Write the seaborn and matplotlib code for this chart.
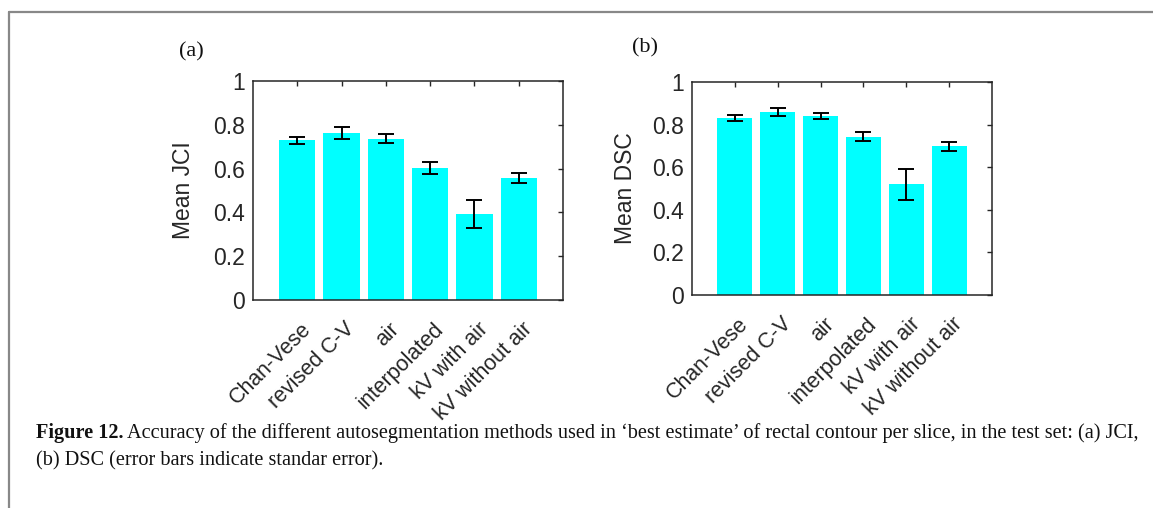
import matplotlib
matplotlib.use("Agg")
import matplotlib.pyplot as plt
import matplotlib.transforms as mtransforms
from matplotlib.lines import Line2D
import seaborn as sns
import pandas as pd

methods = ["Chan-Vese", "revised C-V", "air", "interpolated", "kV with air", "kV without air"]
jci_mean = [0.729, 0.763, 0.736, 0.603, 0.391, 0.559]
jci_se = [0.015, 0.029, 0.020, 0.027, 0.064, 0.023]
dsc_mean = [0.831, 0.859, 0.841, 0.744, 0.519, 0.698]
dsc_se = [0.013, 0.019, 0.014, 0.020, 0.074, 0.021]
yticks = [0, 0.2, 0.4, 0.6, 0.8, 1.0]
yticklabels = ["0", "0.2", "0.4", "0.6", "0.8", "1"]

sns.set_style("white")
plt.rcParams["font.family"] = ["Liberation Sans", "DejaVu Sans"]

W, H = 1153, 508
fig = plt.figure(figsize=(W / 100, H / 100), dpi=100)

ink = "#262626"

def panel(rect, means, ses, ylabel, label_x):
    ax = fig.add_axes(rect)
    df = pd.DataFrame({"method": methods, "value": means})
    sns.barplot(data=df, x="method", y="value", color="#00FFFF", saturation=1,
                width=0.82, errorbar=None, ax=ax, edgecolor="none")
    ax.errorbar(range(len(methods)), means, yerr=ses, fmt="none", ecolor="black",
                elinewidth=1.4, capsize=5.5, capthick=1.4)
    ax.set_xlim(-1, 6)
    ax.set_ylim(0, 1)
    ax.set_yticks(yticks)
    ax.set_yticklabels(yticklabels)
    ax.set_xlabel("")
    ax.set_ylabel(ylabel, fontsize=16.5, color=ink)
    ax.yaxis.set_label_coords(label_x, 0.5)
    ax.tick_params(axis="both", direction="in", length=3.5, width=1, colors=ink,
                   top=True, right=True, labelsize=16.5, pad=6)
    ax.tick_params(axis="x", labelsize=15.5)
    for lab in ax.get_xticklabels():
        lab.set_rotation(45)
        lab.set_ha("right")
        lab.set_rotation_mode("anchor")
        lab.set_transform(lab.get_transform() + mtransforms.ScaledTranslation(3 / 100, -10 / 100, fig.dpi_scale_trans))
    for s in ax.spines.values():
        s.set_color(ink)
        s.set_linewidth(1.1)
        s.set_visible(True)
    ax.set_facecolor("white")
    return ax

axa = panel([253 / W, (H - 300) / H, 310 / W, 219 / H], jci_mean, jci_se, "Mean JCI", -0.187)
axb = panel([692 / W, (H - 295) / H, 300 / W, 213 / H], dsc_mean, dsc_se, "Mean DSC", -0.183)

fig.text(191 / W, 1 - 52 / H, "(a)", family="Liberation Serif", fontsize=16, ha="center", va="center", color="#111111")
fig.text(645 / W, 1 - 48 / H, "(b)", family="Liberation Serif", fontsize=16, ha="center", va="center", color="#111111")

# frame lines
fig.add_artist(Line2D([9 / W, 1.0], [1 - 12 / H, 1 - 12 / H], transform=fig.transFigure, color="#888888", lw=1.6))
fig.add_artist(Line2D([9 / W, 9 / W], [1 - 12 / H, 0], transform=fig.transFigure, color="#888888", lw=1.6))

# caption
cap_fs = 13
bold = fig.text(36 / W, 1 - 433 / H, "Figure 12.", family="Liberation Serif", fontweight="bold",
                fontsize=cap_fs, va="center", ha="left", color="#111111")
fig.canvas.draw()
r = fig.canvas.get_renderer()
bb = bold.get_window_extent(r)
rest = fig.text(bb.x1 / W + 3 / W, 1 - 433 / H,
                "Accuracy of the different autosegmentation methods used in \u2018best estimate\u2019 of rectal contour per slice, in the test set: (a) JCI,",
                family="Liberation Serif", fontsize=cap_fs, va="center", ha="left", color="#111111")
line2 = fig.text(36 / W, 1 - 461 / H, "(b) DSC (error bars indicate standar error).",
                 family="Liberation Serif", fontsize=cap_fs, va="center", ha="left", color="#111111")
# fit first line width to reference (ends at x=1138)
fig.canvas.draw()
end = rest.get_window_extent(r).x1
scale = (1138 - 36) / (end - 36)
if abs(scale - 1) > 0.01:
    new_fs = cap_fs * scale
    bold.set_fontsize(new_fs)
    line2.set_fontsize(new_fs)
    rest.set_fontsize(new_fs)
    fig.canvas.draw()
    bb = bold.get_window_extent(r)
    rest.set_x(bb.x1 / W + 3 / W)

fig.savefig("out.png", dpi=100, facecolor="white")
